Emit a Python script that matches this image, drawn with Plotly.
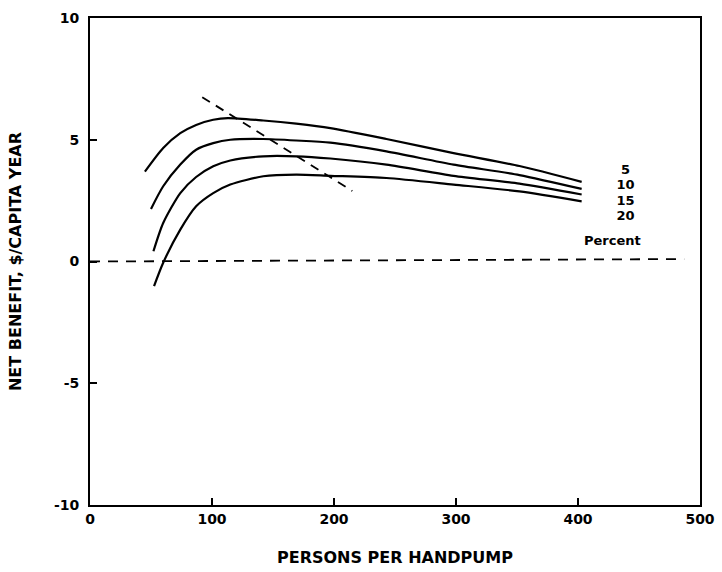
import plotly.graph_objects as go

# Persons per handpump
x5 = [45, 60, 74, 87, 101, 113, 142, 169, 197, 243, 298, 352, 403]
y5 = [3.69, 4.66, 5.27, 5.61, 5.82, 5.89, 5.79, 5.66, 5.48, 5.03, 4.45, 3.92, 3.27]

x10 = [50, 60, 74, 87, 101, 115, 142, 169, 197, 243, 298, 352, 403]
y10 = [2.16, 3.09, 3.98, 4.59, 4.86, 5.00, 5.03, 4.97, 4.88, 4.52, 3.98, 3.55, 2.98]

x15 = [52, 60, 74, 87, 101, 115, 142, 169, 197, 243, 298, 352, 403]
y15 = [0.42, 1.58, 2.81, 3.47, 3.91, 4.15, 4.32, 4.32, 4.23, 3.98, 3.52, 3.20, 2.75]

x20 = [52.5, 60, 74, 87, 101, 115, 142, 169, 197, 243, 298, 352, 403]
y20 = [-1.01, -0.05, 1.31, 2.27, 2.81, 3.16, 3.50, 3.57, 3.52, 3.43, 3.16, 2.88, 2.47]

optimum_x = [92, 215]
optimum_y = [6.75, 2.9]

zero_x = [0, 487]
zero_y = [0, 0.1]

rate_labels = ["5", "10", "15", "20"]
rate_label_y = [3.73, 3.11, 2.46, 1.84]
label_x = 439

x_ticks = [0, 100, 200, 300, 400, 500]
y_ticks = [-10, -5, 0, 5, 10]

fig = go.Figure()
line = dict(color="black", width=2.2, shape="spline", smoothing=0.7)
for xs, ys in [(x5, y5), (x10, y10), (x15, y15), (x20, y20)]:
    fig.add_trace(go.Scatter(x=xs, y=ys, mode="lines", line=line, showlegend=False, hoverinfo="skip"))

fig.add_trace(go.Scatter(x=optimum_x, y=optimum_y, mode="lines",
                         line=dict(color="black", width=1.8, dash="9px,7px"),
                         showlegend=False, hoverinfo="skip"))
fig.add_trace(go.Scatter(x=zero_x, y=zero_y, mode="lines",
                         line=dict(color="black", width=1.8, dash="10px,8px"),
                         showlegend=False, hoverinfo="skip"))

fig.add_trace(go.Scatter(x=[label_x] * len(rate_labels), y=rate_label_y, mode="text",
                         text=rate_labels,
                         textfont=dict(family="DejaVu Sans", size=13, color="black", weight="bold"),
                         showlegend=False, hoverinfo="skip"))
fig.add_annotation(x=428, y=0.86, text="Percent", showarrow=False,
                   font=dict(family="DejaVu Sans", size=13, color="black", weight="bold"))

axis_common = dict(
    showline=True, linecolor="black", linewidth=2, mirror=True,
    ticks="inside", ticklen=7, tickwidth=2, tickcolor="black",
    showgrid=False, zeroline=False, automargin=False,
    tickfont=dict(family="DejaVu Sans", size=14, color="black", weight="bold"),
)

fig.update_xaxes(range=[0, 500], tickvals=x_ticks, ticktext=[str(v) for v in x_ticks],
                 title=dict(text="PERSONS PER HANDPUMP", standoff=26,
                            font=dict(family="DejaVu Sans", size=16, color="black", weight="bold")),
                 **axis_common)
fig.update_yaxes(range=[-10, 10], tickvals=y_ticks, ticktext=["-10", "-5", "0", "5", "10"],
                 ticklabelstandoff=6,
                 title=dict(text="NET BENEFIT, $/CAPITA YEAR", standoff=28,
                            font=dict(family="DejaVu Sans", size=16, color="black", weight="bold")),
                 **axis_common)

fig.update_layout(
    width=722, height=572,
    margin=dict(l=90, r=22, t=18, b=67),
    plot_bgcolor="white", paper_bgcolor="white",
)

fig.write_html("out.html")
